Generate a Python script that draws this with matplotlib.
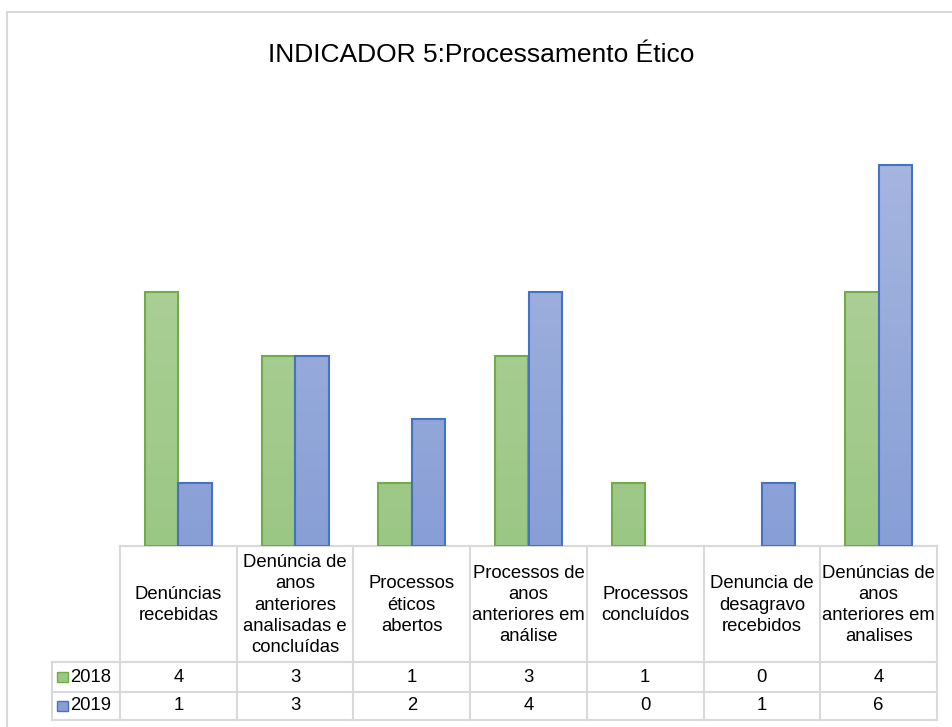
import numpy as np
import matplotlib
matplotlib.use("Agg")
import matplotlib.pyplot as plt
from matplotlib.patches import Rectangle
from matplotlib.transforms import blended_transform_factory

plt.rcParams['font.family'] = ['Liberation Sans', 'DejaVu Sans']

categories = ['Denúncias\nrecebidas',
              'Denúncia de\nanos\nanteriores\nanalisadas e\nconcluídas',
              'Processos\néticos\nabertos',
              'Processos de\nanos\nanteriores em\nanálise',
              'Processos\nconcluídos',
              'Denuncia de\ndesagravo\nrecebidos',
              'Denúncias de\nanos\nanteriores em\nanalises']
series_names = ['2018', '2019']
values_2018 = [4, 3, 1, 3, 1, 0, 4]
values_2019 = [1, 3, 2, 4, 0, 1, 6]

W, H = 953, 727
fig = plt.figure(figsize=(W / 100, H / 100), dpi=100)

# outer chart border (runs off the right and bottom edge)
fig.patches.append(Rectangle((6.5 / W, 0 - 0.05), 1.1, 1 - 11.5 / H + 0.05,
                             transform=fig.transFigure, fill=False,
                             edgecolor='#d9d9d9', linewidth=1.5))

# plot area: x from 120 to 937 px, baseline at 546 px, ylim 0..7
ax = fig.add_axes([120 / W, (H - 546) / H, (937 - 120) / W, 444.5 / H])
ax.set_xlim(-0.5, len(categories) - 0.5)
ax.set_ylim(0, 7)
ax.axis('off')

x = np.arange(len(categories))
bw = 0.287
edge_cols = ['#70ad47', '#4472c4']
grad = [('#b6d4a4', '#9bc784'), ('#aab9e0', '#889fd6')]

for k, vals in enumerate([values_2018, values_2019]):
    offs = (k - 0.5) * bw
    bars = ax.bar(x + offs, vals, width=bw, facecolor='none',
                  edgecolor=edge_cols[k], linewidth=1.5, zorder=3)
    cmap = matplotlib.colors.LinearSegmentedColormap.from_list('g', [grad[k][1], grad[k][0]])
    for b in bars:
        if b.get_height() <= 0:
            b.set_visible(False)
            continue
        x0, y0 = b.get_x(), b.get_y()
        im = ax.imshow(np.linspace(0, 1, 100).reshape(-1, 1), cmap=cmap,
                       origin='lower', aspect='auto', zorder=2,
                       extent=[x0, x0 + b.get_width(), y0, y0 + 7])
        im.set_clip_path(b)
ax.set_xlim(-0.5, len(categories) - 0.5)
ax.set_ylim(0, 7)

# title
fig.text(481.5 / W, 1 - 62 / H, 'INDICADOR 5:Processamento Ético',
         fontsize=19, ha='center', va='baseline', color='#000000')

# data table
tr = blended_transform_factory(ax.transData, fig.transFigure)
def fy(p):
    return 1 - p / H

grid = '#d9d9d9'
lw = 1.5
top, hdr_bot, r1_bot, r2_bot = 546, 662, 692, 720
xl = -0.5 - 68 / 116.7
xr = len(categories) - 0.5

ax.plot([-0.5, xr], [fy(top)] * 2, color=grid, lw=lw, transform=tr, clip_on=False)
for yy in [hdr_bot, r1_bot, r2_bot]:
    ax.plot([xl, xr], [fy(yy)] * 2, color=grid, lw=lw, transform=tr, clip_on=False)
for i in range(len(categories) + 1):
    ax.plot([i - 0.5] * 2, [fy(top), fy(r2_bot)], color=grid, lw=lw,
            transform=tr, clip_on=False)
ax.plot([xl] * 2, [fy(hdr_bot), fy(r2_bot)], color=grid, lw=lw, transform=tr, clip_on=False)

fs = 13.3
for i, lab in enumerate(categories):
    ax.text(i, fy((top + hdr_bot) / 2 + 1), lab, transform=tr, ha='center', va='center',
            multialignment='center', fontsize=fs, linespacing=1.32, clip_on=False)
    ax.text(i, fy((hdr_bot + r1_bot) / 2), str(values_2018[i]), transform=tr,
            ha='center', va='center', fontsize=fs, clip_on=False)
    ax.text(i, fy((r1_bot + r2_bot) / 2), str(values_2019[i]), transform=tr,
            ha='center', va='center', fontsize=fs, clip_on=False)

# legend keys in the table
key_w = 11 / 116.7
for k, (y0, y1) in enumerate([(hdr_bot, r1_bot), (r1_bot, r2_bot)]):
    yc = (y0 + y1) / 2
    ax.add_patch(Rectangle((xl + 5 / 116.7, fy(yc + 5)), key_w, 10 / H,
                           transform=tr, facecolor=grad[k][1], edgecolor=edge_cols[k],
                           linewidth=1.0, clip_on=False))
    ax.text(xl + 18 / 116.7, fy(yc), series_names[k], transform=tr, ha='left',
            va='center', fontsize=fs, clip_on=False)

fig.savefig('out.png', dpi=100)
